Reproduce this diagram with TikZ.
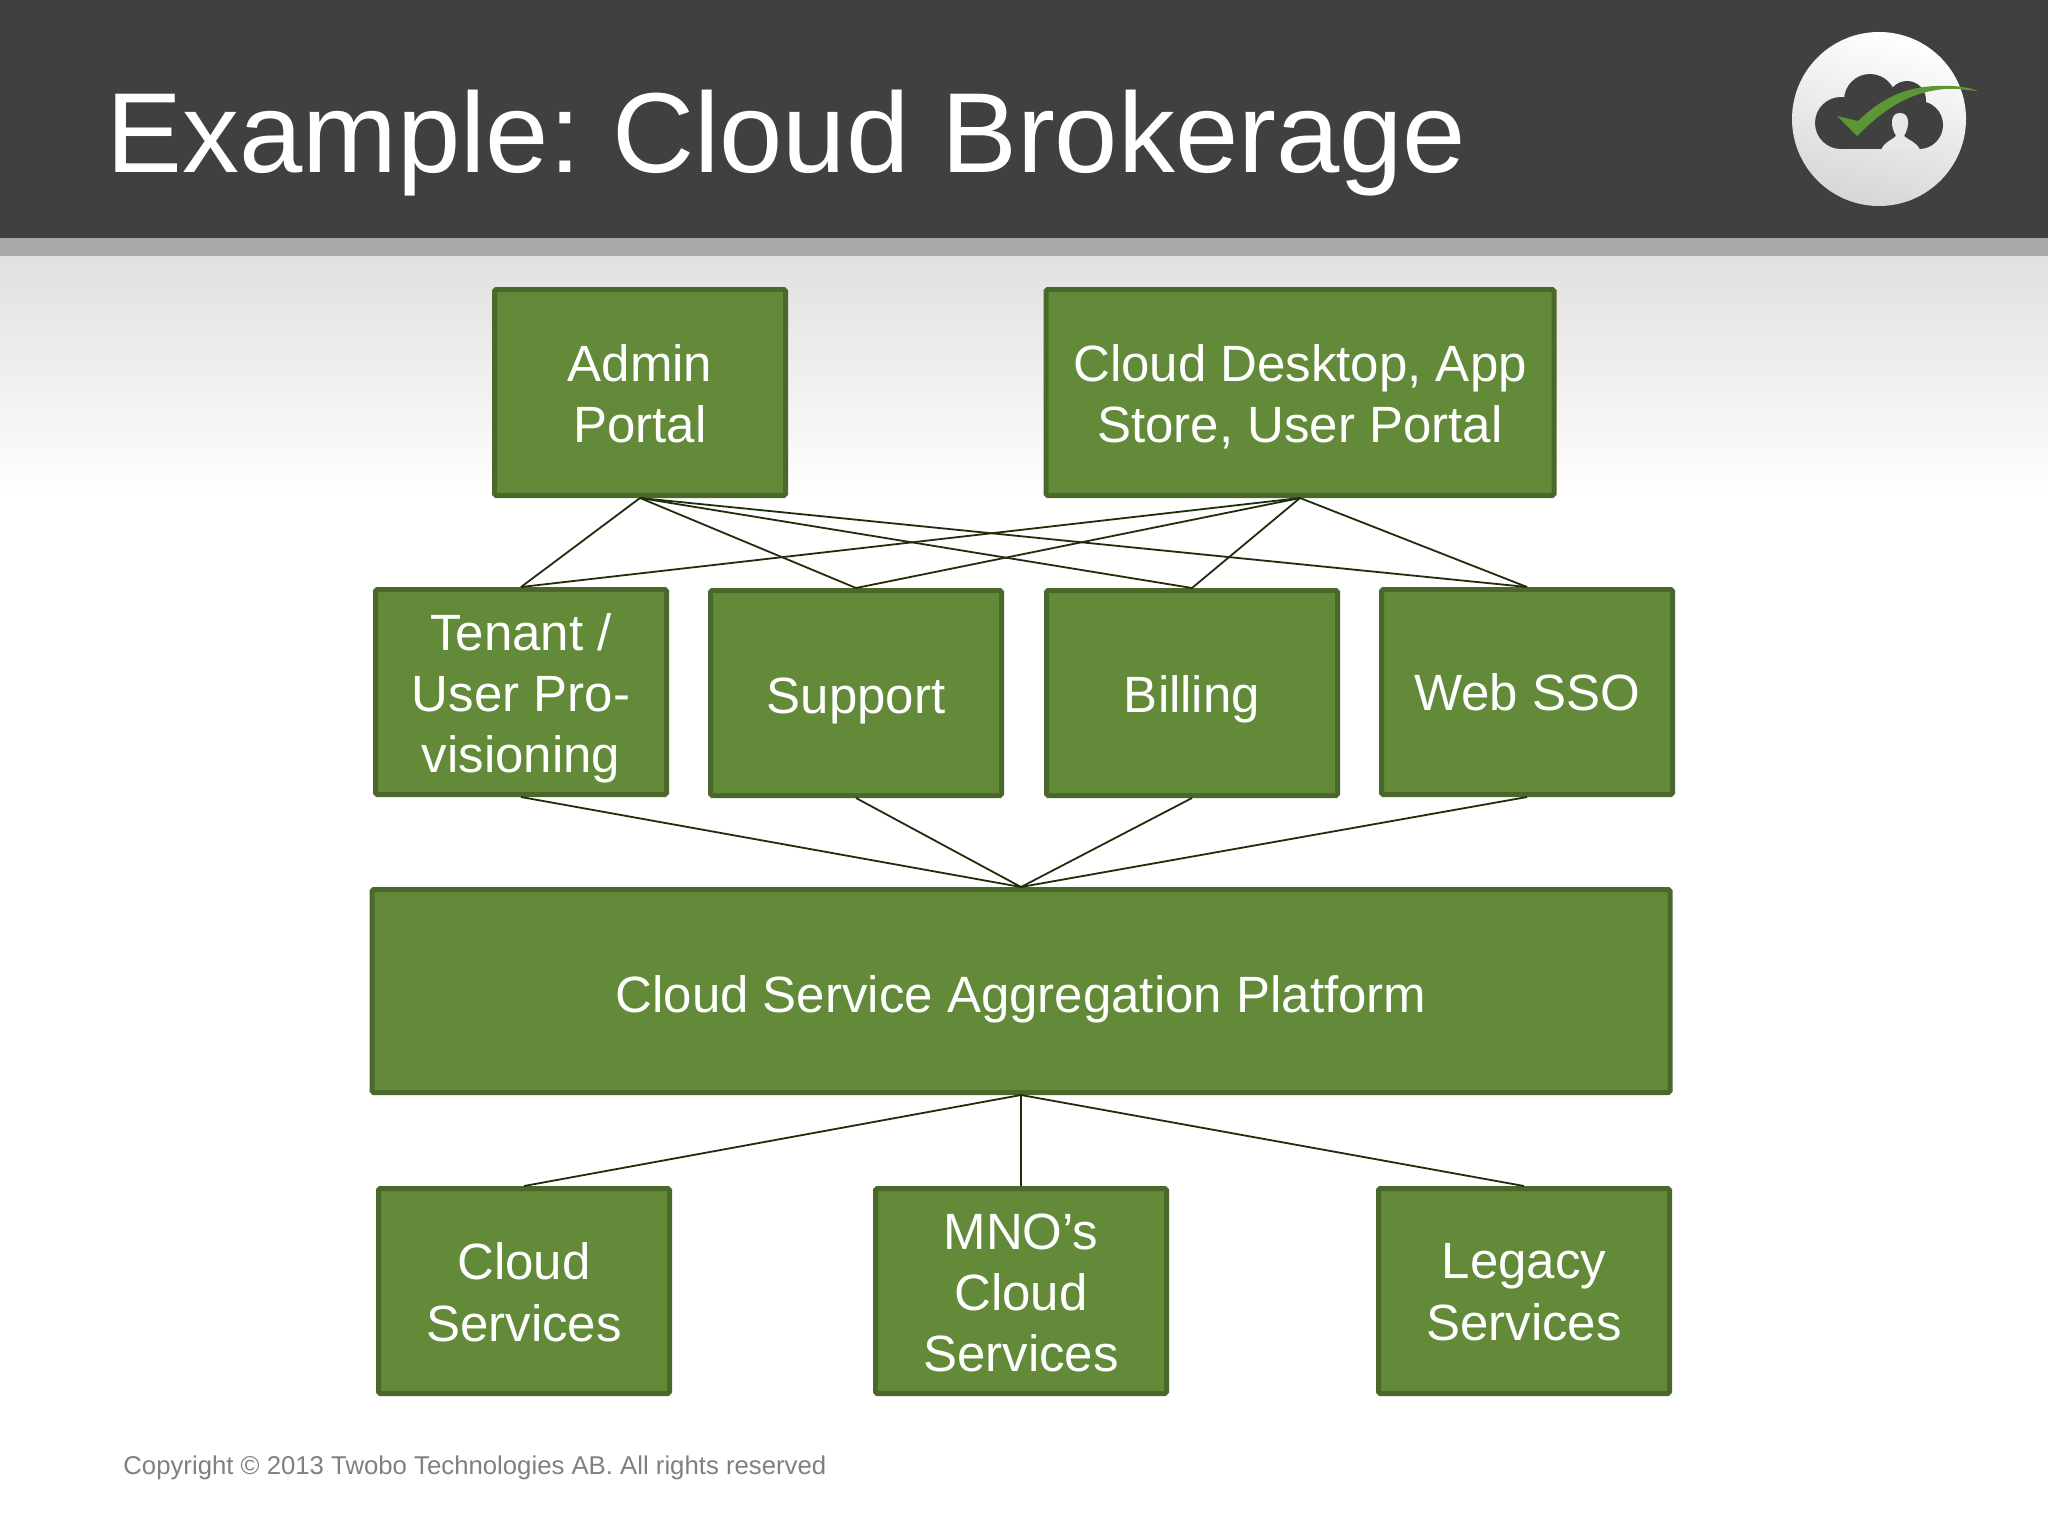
\documentclass[tikz,border=0pt]{standalone}
\usepackage{fontspec}
\setmainfont{Liberation Sans}
\frenchspacing
\definecolor{hdr}{HTML}{404040}
\definecolor{bar}{HTML}{A9A9A9}
\definecolor{boxfill}{HTML}{628A38}
\definecolor{boxedge}{HTML}{4A682A}
\definecolor{wire}{HTML}{1F2D0A}
\definecolor{tick}{HTML}{5D9634}
\newcommand{\nodepth}[1]{\raisebox{0pt}[\height][0pt]{#1}}
\newcommand{\pad}[2]{\raisebox{0pt}[\dimexpr\height+#1\relax][\depth]{#2}}
\tikzset{
  greenbox/.style={draw=boxedge,fill=boxfill,line width=2.5pt,rounded corners=0.8pt,text=white,align=center,
    inner sep=0pt,font=\fontsize{25.5}{30.7}\selectfont},
  smallbox/.style={greenbox,minimum width=145.5pt,minimum height=102.5pt},
  wirelink/.style={draw=wire,line width=0.9pt}
}
\begin{document}
\begin{tikzpicture}[x=0.5pt,y=-0.5pt]
\useasboundingbox (0,0) rectangle (2048,1536);
\fill[white] (0,0) rectangle (2048,1536);
\shade[top color=black!12,bottom color=white] (0,256) rectangle (2048,500);
\fill[bar] (0,238) rectangle (2048,256);
\fill[hdr] (0,0) rectangle (2048,238);
% logo
\shade[left color=white,right color=black!16,shading angle=-15] (1879,119) circle (87);
\fill[hdr] (1841,123) circle (26);
\fill[hdr] (1919,125) circle (24);
\fill[hdr] (1870,100) circle (26);
\fill[hdr] (1907,100) circle (19);
\fill[hdr] (1841,105) rectangle (1919,149);
\fill[black!9] (1881,150) .. controls (1884,142) and (1892,140) .. (1896,136) .. controls (1890,126) and (1890,113) .. (1900,113)
  .. controls (1910,113) and (1910,126) .. (1904,136) .. controls (1908,140) and (1917,142) .. (1920,150) -- cycle;
\fill[tick] (1837,116) -- (1858,121) .. controls (1880,100) and (1905,84) .. (1950,86) .. controls (1960,86) and (1970,88) .. (1978,91)
  .. controls (1965,90) and (1955,88) .. (1945,89) .. controls (1910,92) and (1885,108) .. (1857,136) -- cycle;
\node[anchor=base west,text=white,inner sep=0pt,font=\fontsize{56.9}{62}\selectfont] (title) at (106,172) {Example: Cloud Brokerage};
\node[anchor=base west,text=black!50,inner sep=0pt,font=\fontsize{12.87}{16}\selectfont] (copy) at (123,1474) {Copyright © 2013 Twobo Technologies AB. All rights reserved};
% boxes
\node[greenbox,minimum width=145.5pt,minimum height=103pt] (admin) at (640,392.5) {\pad{1.3pt}{Admin}\\Portal};
\node[greenbox,minimum width=254pt,minimum height=103pt] (desk) at (1300,392.5) {\pad{1.3pt}{Cloud Desktop, App}\\\nodepth{Store, User Portal}};
\node[smallbox] (tenant) at (521,692) {\pad{1pt}{Tenant /}\\User Pro-\\\nodepth{visioning}};
\node[smallbox] (support) at (856,693) {\pad{2.6pt}{\nodepth{Support}}};
\node[smallbox] (billing) at (1192,693) {\pad{1.3pt}{\nodepth{Billing}}};
\node[smallbox] (sso) at (1527,692) {Web SSO};
\node[greenbox,minimum width=649pt,minimum height=101.5pt] (platform) at (1021,991) {\pad{2.6pt}{\nodepth{Cloud Service Aggregation Platform}}};
\node[smallbox] (cloud) at (524,1291) {\pad{1.3pt}{Cloud}\\Services};
\node[smallbox] (mno) at (1021,1291) {\pad{2pt}{MNO’s}\\Cloud\\Services};
\node[smallbox] (legacy) at (1524,1291) {\pad{1.3pt}{Legacy}\\Services};
% connectors
\foreach \a in {admin,desk}
  \foreach \b in {tenant,support,billing,sso}
    \draw[wirelink] (\a.south) -- (\b.north);
\foreach \b in {tenant,support,billing,sso}
  \draw[wirelink] (\b.south) -- (platform.north);
\foreach \b in {cloud,mno,legacy}
  \draw[wirelink] (platform.south) -- (\b.north);
\end{tikzpicture}
\end{document}
